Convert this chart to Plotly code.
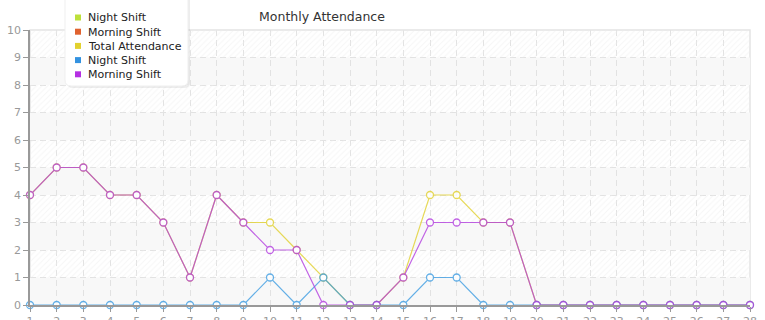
import plotly.graph_objects as go

days = list(range(1, 29))
total_attendance = [4, 5, 5, 4, 4, 3, 1, 4, 3, 3, 2, 1, 0, 0, 1, 4, 4, 3, 3, 0, 0, 0, 0, 0, 0, 0, 0, 0]
night_shift = [0, 0, 0, 0, 0, 0, 0, 0, 0, 1, 0, 1, 0, 0, 0, 1, 1, 0, 0, 0, 0, 0, 0, 0, 0, 0, 0, 0]
morning_shift = [4, 5, 5, 4, 4, 3, 1, 4, 3, 2, 2, 0, 0, 0, 1, 3, 3, 3, 3, 0, 0, 0, 0, 0, 0, 0, 0, 0]

legend_names = ["Night Shift", "Morning Shift", "Total Attendance", "Night Shift", "Morning Shift"]
legend_colors = ["#bde03a", "#e0622f", "#e2d12f", "#3392e0", "#b530e3"]

X_MIN, X_MAX = 1, 28
Y_MIN, Y_MAX = 0, 10

FONT = "DejaVu Sans"
W, H = 765, 320
ML, MR, MT, MB = 30, 15, 30, 15
PW, PH = W - ML - MR, H - MT - MB


def px(x):
    return (x - ML) / PW


def py(y):
    return (H - MB - y) / PH


def rounded_rect(x0, y0, x1, y1, r):
    # pixel coords -> paper-coord path with rounded corners
    X0, X1 = px(x0), px(x1)
    Y0, Y1 = py(y0), py(y1)  # Y0 top, Y1 bottom
    rx, ry = r / PW, r / PH
    return (f"M{X0 + rx},{Y0} L{X1 - rx},{Y0} Q{X1},{Y0} {X1},{Y0 - ry} "
            f"L{X1},{Y1 + ry} Q{X1},{Y1} {X1 - rx},{Y1} L{X0 + rx},{Y1} "
            f"Q{X0},{Y1} {X0},{Y1 + ry} L{X0},{Y0 - ry} Q{X0},{Y0} {X0 + rx},{Y0} Z")


fig = go.Figure()

# hatched background bands (decoration)
hx, hy = [], []
for k in range(Y_MIN + 1, Y_MAX, 2):
    hx += [X_MIN, X_MAX, X_MAX, X_MIN, X_MIN, None]
    hy += [k, k, k + 1, k + 1, k, None]
fig.add_trace(go.Scatter(
    x=hx, y=hy, mode="none", fill="toself", fillcolor="rgba(0,0,0,0)",
    fillpattern=dict(shape="/", fgcolor="#ececec", bgcolor="rgba(0,0,0,0)", size=4, solidity=0.25),
    showlegend=False, hoverinfo="skip"))

series = [
    (total_attendance, "#e2d12f", "Total Attendance"),
    (night_shift, "#3f9ee3", "Night Shift"),
    (morning_shift, "#b43fe0", "Morning Shift"),
]
for vals, col, name in series:
    fig.add_trace(go.Scatter(
        x=days, y=vals, mode="lines+markers", name=name, showlegend=False,
        line=dict(color=col, width=1.2), opacity=0.8,
        marker=dict(symbol="circle", size=7, color="white", line=dict(color=col, width=1.3)),
        cliponaxis=False))

shapes = []
for k in range(Y_MIN, Y_MAX, 2):
    shapes.append(dict(type="rect", xref="x", yref="y", x0=X_MIN, x1=X_MAX, y0=k, y1=k + 1,
                       fillcolor="#f8f8f8", line=dict(width=0), layer="below"))
shapes.append(dict(type="rect", xref="paper", yref="paper", x0=0, x1=1, y0=0, y1=1,
                   line=dict(color="#e4e4e4", width=1.5), fillcolor="rgba(0,0,0,0)", layer="below"))

# legend box (shadow + box)
shapes.append(dict(type="path", xref="paper", yref="paper", path=rounded_rect(67, -6, 190, 88, 6),
                   fillcolor="rgba(0,0,0,0.07)", line=dict(width=0), layer="above"))
shapes.append(dict(type="path", xref="paper", yref="paper", path=rounded_rect(65, -6, 188, 86, 6),
                   fillcolor="white", line=dict(color="#efefef", width=1), layer="above"))

annotations = []
row0, dy = 17.5, 14.2
for i, (name, col) in enumerate(zip(legend_names, legend_colors)):
    cy = row0 + i * dy
    shapes.append(dict(type="rect", xref="paper", yref="paper", x0=px(75), x1=px(81),
                       y0=py(cy + 3), y1=py(cy - 3), fillcolor=col, line=dict(width=0), layer="above"))
    annotations.append(dict(text=name, xref="paper", yref="paper", x=px(86), y=py(cy + 0.5),
                            xanchor="left", yanchor="middle", showarrow=False,
                            font=dict(family=FONT, size=11, color="#222")))

fig.update_layout(
    width=W, height=H,
    margin=dict(l=ML, r=MR, t=MT, b=MB),
    paper_bgcolor="white", plot_bgcolor="white",
    font=dict(family=FONT, size=11, color="#222"),
    title=dict(text="Monthly Attendance", x=322 / W, xanchor="center", y=1 - 17 / H, yanchor="middle",
               font=dict(family=FONT, size=12.5, color="#333")),
    shapes=shapes,
    annotations=annotations,
    showlegend=False,
    xaxis=dict(range=[X_MIN, X_MAX], dtick=1, tick0=1, showgrid=True, gridcolor="#e2e2e2", griddash="6px,4px",
               gridwidth=1, zeroline=False, showline=True, linecolor="#999", linewidth=1.5, automargin=False,
               ticks="outside", ticklen=5, tickcolor="#999", tickfont=dict(color="#999", size=11, family=FONT)),
    yaxis=dict(range=[Y_MIN, Y_MAX], dtick=1, tick0=0, showgrid=True, gridcolor="#e2e2e2", griddash="6px,4px",
               gridwidth=1, zeroline=False, showline=True, linecolor="#999", linewidth=1.5, automargin=False,
               ticks="outside", ticklen=5, tickcolor="#999", tickfont=dict(color="#999", size=11, family=FONT)),
)

fig.write_html("out.html")
